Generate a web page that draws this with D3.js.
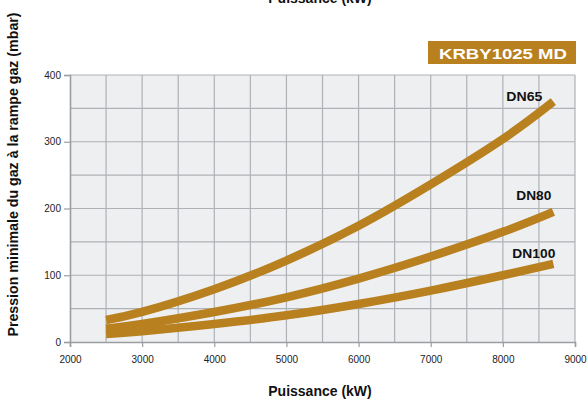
<!DOCTYPE html>
<html>
<head>
<meta charset="utf-8">
<script src="https://cdn.jsdelivr.net/npm/d3@7"></script>
<style>
  body { margin: 0; background: #fff; }
  text { font-family: "Liberation Sans", Arial, sans-serif; }
</style>
</head>
<body>
<svg id="chart" width="588" height="403"></svg>
<script>
// data (kW -> mbar)
const power = [2500, 3000, 4000, 5000, 6000, 7000, 8000, 8700];
const dn65 = [33, 45, 79, 122, 174, 236, 304, 360];
const dn80 = [20, 27, 45, 67, 95, 128, 165, 195];
const dn100 = [12, 16, 27, 40, 57, 77, 100, 117];
const seriesNames = ['DN65', 'DN80', 'DN100'];
const xTicks = [2000, 3000, 4000, 5000, 6000, 7000, 8000, 9000];
const yTicks = [0, 100, 200, 300, 400];

const gold = '#b8801f';
const svg = d3.select('#chart');
const margin = { top: 75, right: 13, bottom: 61, left: 70 },
    width = 588 - margin.left - margin.right,
    height = 403 - margin.top - margin.bottom;

const x = d3.scaleLinear().domain([2000, 9000]).range([0, width]);
const y = d3.scaleLinear().domain([0, 400]).range([height, 0]);

const g = svg.append('g')
    .attr('transform', 'translate(' + margin.left + ',' + margin.top + ')');

// plot background
g.append('rect')
    .attr('width', width).attr('height', height)
    .attr('fill', '#eeeff1');

// grid
g.append('g').selectAll('line')
    .data(d3.range(2500, 9001, 500))
    .enter().append('line')
    .attr('x1', d => x(d)).attr('x2', d => x(d))
    .attr('y1', 0).attr('y2', height)
    .attr('stroke', '#aeb1b5').attr('stroke-width', 1.2);
g.append('g').selectAll('line')
    .data(d3.range(50, 401, 50))
    .enter().append('line')
    .attr('x1', 0).attr('x2', width)
    .attr('y1', d => y(d)).attr('y2', d => y(d))
    .attr('stroke', '#aeb1b5').attr('stroke-width', 1.2);

// axes
const xAxis = g.append('g')
    .attr('transform', 'translate(0,' + height + ')')
    .call(d3.axisBottom(x).tickValues(xTicks).tickSize(5).tickPadding(9).tickFormat(d3.format('d')));
const yAxis = g.append('g')
    .call(d3.axisLeft(y).tickValues(yTicks).tickSize(6).tickPadding(3));
[xAxis, yAxis].forEach(a => {
    a.select('.domain').attr('stroke', '#9a9ea3').attr('stroke-width', 1.6);
    a.selectAll('.tick line').attr('stroke', '#9a9ea3').attr('stroke-width', 1.2);
    a.selectAll('.tick text').attr('fill', '#222').style('font-size', '10px')
        .style('font-family', '"Liberation Sans", Arial, sans-serif');
});

// curves
const allSeries = [dn65, dn80, dn100];
const line = d3.line()
    .x((d, i) => x(power[i]))
    .y(d => y(d))
    .curve(d3.curveNatural);
g.append('g').selectAll('path')
    .data(allSeries)
    .enter().append('path')
    .attr('d', d => line(d))
    .attr('fill', 'none')
    .attr('stroke', gold)
    .attr('stroke-width', 8.5);

// series labels near the line ends
const labelOffset = [[-47, -1], [-37, -12], [-41, -6]];
const labelWidth = [36, 35, 43];
g.append('g').selectAll('text')
    .data(seriesNames)
    .enter().append('text')
    .attr('x', (d, i) => x(power[power.length - 1]) + labelOffset[i][0])
    .attr('y', (d, i) => y(allSeries[i][power.length - 1]) + labelOffset[i][1])
    .attr('textLength', (d, i) => labelWidth[i])
    .attr('lengthAdjust', 'spacingAndGlyphs')
    .attr('font-weight', 'bold')
    .style('font-size', '12.5px')
    .attr('fill', '#111')
    .text(d => d);

// axis titles
svg.append('text')
    .attr('x', 320).attr('y', 396)
    .attr('text-anchor', 'middle')
    .attr('font-weight', 'bold').style('font-size', '14px')
    .attr('fill', '#111')
    .text('Puissance (kW)');
svg.append('text')
    .attr('x', 320).attr('y', 3)
    .attr('text-anchor', 'middle')
    .attr('font-weight', 'bold').style('font-size', '14px')
    .attr('fill', '#111')
    .text('Puissance (kW)');
svg.append('text')
    .attr('transform', 'translate(18,174.5) rotate(-90)')
    .attr('text-anchor', 'middle')
    .attr('font-weight', 'bold').style('font-size', '14.2px')
    .attr('fill', '#111')
    .text('Pression minimale du gaz à la rampe gaz (mbar)');

// model badge
svg.append('rect')
    .attr('x', 428).attr('y', 41).attr('width', 148).attr('height', 23)
    .attr('fill', gold);
svg.append('text')
    .attr('x', 439).attr('y', 58.5)
    .attr('textLength', 128)
    .attr('lengthAdjust', 'spacingAndGlyphs')
    .attr('font-weight', 'bold').style('font-size', '15.5px')
    .attr('fill', '#fff')
    .text('KRBY1025 MD');
</script>
</body>
</html>
